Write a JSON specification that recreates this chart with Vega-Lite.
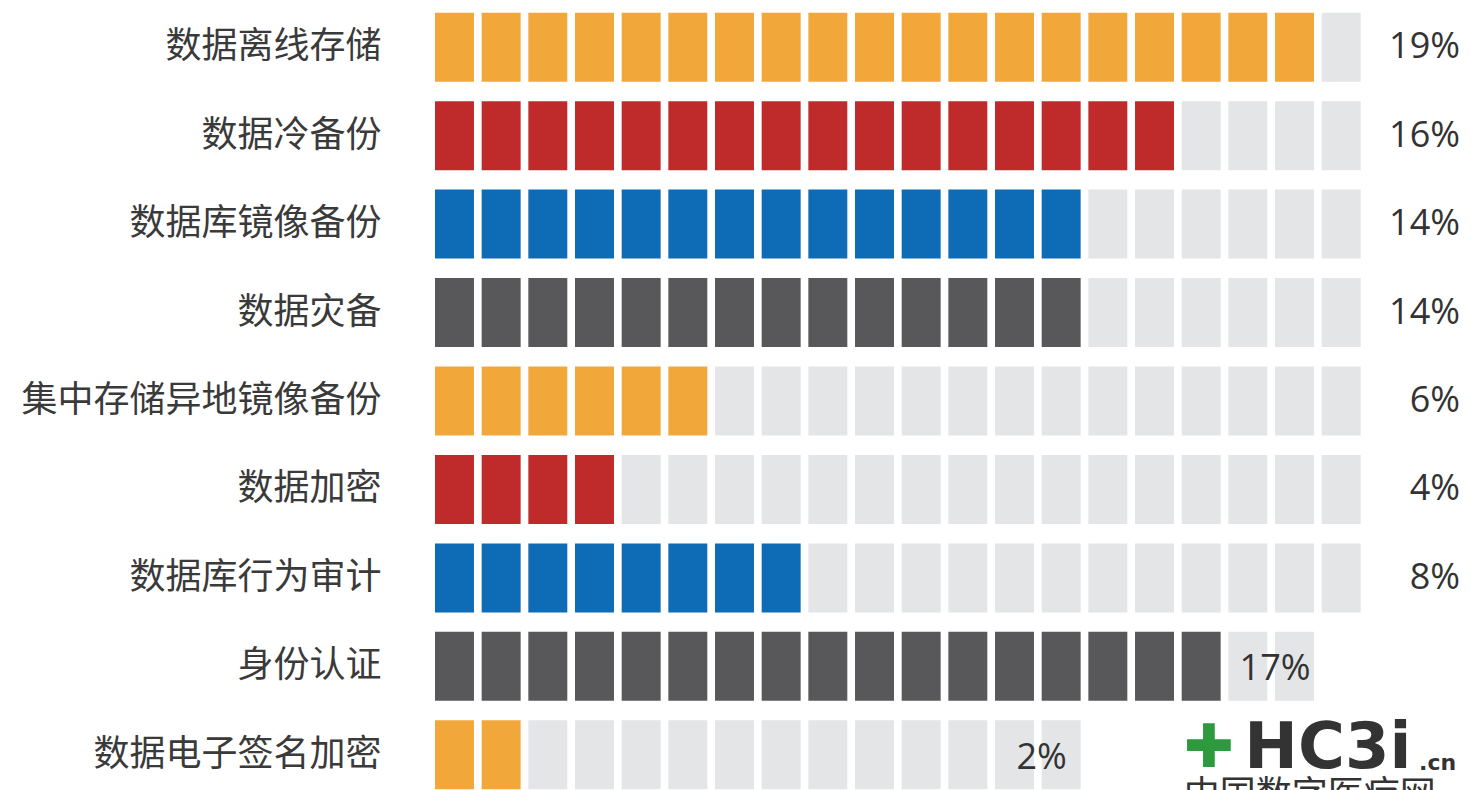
{
  "$schema": "https://vega.github.io/schema/vega-lite/v6.json",
  "width": 1019,
  "height": 796,
  "autosize": {"type": "none"},
  "padding": {"left": 435, "top": 3, "right": 17, "bottom": 0},
  "background": "white",
  "config": {"view": {"stroke": null}, "font": "Noto Sans CJK SC"},
  "datasets": {
    "cells": [
      {"k":"数据离线存储","i":0,"f":1},{"k":"数据离线存储","i":1,"f":1},{"k":"数据离线存储","i":2,"f":1},{"k":"数据离线存储","i":3,"f":1},{"k":"数据离线存储","i":4,"f":1},{"k":"数据离线存储","i":5,"f":1},{"k":"数据离线存储","i":6,"f":1},{"k":"数据离线存储","i":7,"f":1},{"k":"数据离线存储","i":8,"f":1},{"k":"数据离线存储","i":9,"f":1},{"k":"数据离线存储","i":10,"f":1},{"k":"数据离线存储","i":11,"f":1},{"k":"数据离线存储","i":12,"f":1},{"k":"数据离线存储","i":13,"f":1},{"k":"数据离线存储","i":14,"f":1},{"k":"数据离线存储","i":15,"f":1},{"k":"数据离线存储","i":16,"f":1},{"k":"数据离线存储","i":17,"f":1},{"k":"数据离线存储","i":18,"f":1},{"k":"数据离线存储","i":19,"f":0},
      {"k":"数据冷备份","i":0,"f":1},{"k":"数据冷备份","i":1,"f":1},{"k":"数据冷备份","i":2,"f":1},{"k":"数据冷备份","i":3,"f":1},{"k":"数据冷备份","i":4,"f":1},{"k":"数据冷备份","i":5,"f":1},{"k":"数据冷备份","i":6,"f":1},{"k":"数据冷备份","i":7,"f":1},{"k":"数据冷备份","i":8,"f":1},{"k":"数据冷备份","i":9,"f":1},{"k":"数据冷备份","i":10,"f":1},{"k":"数据冷备份","i":11,"f":1},{"k":"数据冷备份","i":12,"f":1},{"k":"数据冷备份","i":13,"f":1},{"k":"数据冷备份","i":14,"f":1},{"k":"数据冷备份","i":15,"f":1},{"k":"数据冷备份","i":16,"f":0},{"k":"数据冷备份","i":17,"f":0},{"k":"数据冷备份","i":18,"f":0},{"k":"数据冷备份","i":19,"f":0},
      {"k":"数据库镜像备份","i":0,"f":1},{"k":"数据库镜像备份","i":1,"f":1},{"k":"数据库镜像备份","i":2,"f":1},{"k":"数据库镜像备份","i":3,"f":1},{"k":"数据库镜像备份","i":4,"f":1},{"k":"数据库镜像备份","i":5,"f":1},{"k":"数据库镜像备份","i":6,"f":1},{"k":"数据库镜像备份","i":7,"f":1},{"k":"数据库镜像备份","i":8,"f":1},{"k":"数据库镜像备份","i":9,"f":1},{"k":"数据库镜像备份","i":10,"f":1},{"k":"数据库镜像备份","i":11,"f":1},{"k":"数据库镜像备份","i":12,"f":1},{"k":"数据库镜像备份","i":13,"f":1},{"k":"数据库镜像备份","i":14,"f":0},{"k":"数据库镜像备份","i":15,"f":0},{"k":"数据库镜像备份","i":16,"f":0},{"k":"数据库镜像备份","i":17,"f":0},{"k":"数据库镜像备份","i":18,"f":0},{"k":"数据库镜像备份","i":19,"f":0},
      {"k":"数据灾备","i":0,"f":1},{"k":"数据灾备","i":1,"f":1},{"k":"数据灾备","i":2,"f":1},{"k":"数据灾备","i":3,"f":1},{"k":"数据灾备","i":4,"f":1},{"k":"数据灾备","i":5,"f":1},{"k":"数据灾备","i":6,"f":1},{"k":"数据灾备","i":7,"f":1},{"k":"数据灾备","i":8,"f":1},{"k":"数据灾备","i":9,"f":1},{"k":"数据灾备","i":10,"f":1},{"k":"数据灾备","i":11,"f":1},{"k":"数据灾备","i":12,"f":1},{"k":"数据灾备","i":13,"f":1},{"k":"数据灾备","i":14,"f":0},{"k":"数据灾备","i":15,"f":0},{"k":"数据灾备","i":16,"f":0},{"k":"数据灾备","i":17,"f":0},{"k":"数据灾备","i":18,"f":0},{"k":"数据灾备","i":19,"f":0},
      {"k":"集中存储异地镜像备份","i":0,"f":1},{"k":"集中存储异地镜像备份","i":1,"f":1},{"k":"集中存储异地镜像备份","i":2,"f":1},{"k":"集中存储异地镜像备份","i":3,"f":1},{"k":"集中存储异地镜像备份","i":4,"f":1},{"k":"集中存储异地镜像备份","i":5,"f":1},{"k":"集中存储异地镜像备份","i":6,"f":0},{"k":"集中存储异地镜像备份","i":7,"f":0},{"k":"集中存储异地镜像备份","i":8,"f":0},{"k":"集中存储异地镜像备份","i":9,"f":0},{"k":"集中存储异地镜像备份","i":10,"f":0},{"k":"集中存储异地镜像备份","i":11,"f":0},{"k":"集中存储异地镜像备份","i":12,"f":0},{"k":"集中存储异地镜像备份","i":13,"f":0},{"k":"集中存储异地镜像备份","i":14,"f":0},{"k":"集中存储异地镜像备份","i":15,"f":0},{"k":"集中存储异地镜像备份","i":16,"f":0},{"k":"集中存储异地镜像备份","i":17,"f":0},{"k":"集中存储异地镜像备份","i":18,"f":0},{"k":"集中存储异地镜像备份","i":19,"f":0},
      {"k":"数据加密","i":0,"f":1},{"k":"数据加密","i":1,"f":1},{"k":"数据加密","i":2,"f":1},{"k":"数据加密","i":3,"f":1},{"k":"数据加密","i":4,"f":0},{"k":"数据加密","i":5,"f":0},{"k":"数据加密","i":6,"f":0},{"k":"数据加密","i":7,"f":0},{"k":"数据加密","i":8,"f":0},{"k":"数据加密","i":9,"f":0},{"k":"数据加密","i":10,"f":0},{"k":"数据加密","i":11,"f":0},{"k":"数据加密","i":12,"f":0},{"k":"数据加密","i":13,"f":0},{"k":"数据加密","i":14,"f":0},{"k":"数据加密","i":15,"f":0},{"k":"数据加密","i":16,"f":0},{"k":"数据加密","i":17,"f":0},{"k":"数据加密","i":18,"f":0},{"k":"数据加密","i":19,"f":0},
      {"k":"数据库行为审计","i":0,"f":1},{"k":"数据库行为审计","i":1,"f":1},{"k":"数据库行为审计","i":2,"f":1},{"k":"数据库行为审计","i":3,"f":1},{"k":"数据库行为审计","i":4,"f":1},{"k":"数据库行为审计","i":5,"f":1},{"k":"数据库行为审计","i":6,"f":1},{"k":"数据库行为审计","i":7,"f":1},{"k":"数据库行为审计","i":8,"f":0},{"k":"数据库行为审计","i":9,"f":0},{"k":"数据库行为审计","i":10,"f":0},{"k":"数据库行为审计","i":11,"f":0},{"k":"数据库行为审计","i":12,"f":0},{"k":"数据库行为审计","i":13,"f":0},{"k":"数据库行为审计","i":14,"f":0},{"k":"数据库行为审计","i":15,"f":0},{"k":"数据库行为审计","i":16,"f":0},{"k":"数据库行为审计","i":17,"f":0},{"k":"数据库行为审计","i":18,"f":0},{"k":"数据库行为审计","i":19,"f":0},
      {"k":"身份认证","i":0,"f":1},{"k":"身份认证","i":1,"f":1},{"k":"身份认证","i":2,"f":1},{"k":"身份认证","i":3,"f":1},{"k":"身份认证","i":4,"f":1},{"k":"身份认证","i":5,"f":1},{"k":"身份认证","i":6,"f":1},{"k":"身份认证","i":7,"f":1},{"k":"身份认证","i":8,"f":1},{"k":"身份认证","i":9,"f":1},{"k":"身份认证","i":10,"f":1},{"k":"身份认证","i":11,"f":1},{"k":"身份认证","i":12,"f":1},{"k":"身份认证","i":13,"f":1},{"k":"身份认证","i":14,"f":1},{"k":"身份认证","i":15,"f":1},{"k":"身份认证","i":16,"f":1},{"k":"身份认证","i":17,"f":0},{"k":"身份认证","i":18,"f":0},
      {"k":"数据电子签名加密","i":0,"f":1},{"k":"数据电子签名加密","i":1,"f":1},{"k":"数据电子签名加密","i":2,"f":0},{"k":"数据电子签名加密","i":3,"f":0},{"k":"数据电子签名加密","i":4,"f":0},{"k":"数据电子签名加密","i":5,"f":0},{"k":"数据电子签名加密","i":6,"f":0},{"k":"数据电子签名加密","i":7,"f":0},{"k":"数据电子签名加密","i":8,"f":0},{"k":"数据电子签名加密","i":9,"f":0},{"k":"数据电子签名加密","i":10,"f":0},{"k":"数据电子签名加密","i":11,"f":0},{"k":"数据电子签名加密","i":12,"f":0},{"k":"数据电子签名加密","i":13,"f":0}
    ],
    "labels": [
      {"k":"数据离线存储","t":"19%"},
      {"k":"数据冷备份","t":"16%"},
      {"k":"数据库镜像备份","t":"14%"},
      {"k":"数据灾备","t":"14%"},
      {"k":"集中存储异地镜像备份","t":"6%"},
      {"k":"数据加密","t":"4%"},
      {"k":"数据库行为审计","t":"8%"},
      {"k":"身份认证","t":"17%","at":18},
      {"k":"数据电子签名加密","t":"2%","at":13}
    ]
  },
  "layer": [
    {
      "data": {"name": "cells"},
      "mark": {"type": "rect"},
      "encoding": {
        "y": {
          "field": "k", "type": "nominal",
          "sort": ["数据离线存储","数据冷备份","数据库镜像备份","数据灾备","集中存储异地镜像备份","数据加密","数据库行为审计","身份认证","数据电子签名加密"],
          "scale": {"paddingInner": 0.22, "paddingOuter": 0.11},
          "axis": {"title": null, "domain": false, "ticks": false, "labelFontSize": 36, "labelColor": "#3a3a3a", "labelPadding": 54, "labelLimit": 0, "labelFont": "Noto Sans CJK SC"}
        },
        "x": {
          "field": "i", "type": "ordinal",
          "scale": {"domain": [0,1,2,3,4,5,6,7,8,9,10,11,12,13,14,15,16,17,18,19,20,21], "paddingInner": 0.165, "paddingOuter": 0},
          "axis": null
        },
        "color": {
          "condition": {"test": "datum.f == 0", "value": "#E4E5E7"},
          "field": "k", "type": "nominal",
          "scale": {
            "domain": ["数据离线存储","数据冷备份","数据库镜像备份","数据灾备","集中存储异地镜像备份","数据加密","数据库行为审计","身份认证","数据电子签名加密"],
            "range": ["#F2A73B","#BF2A2B","#0E6BB5","#58585A","#F2A73B","#BF2A2B","#0E6BB5","#58585A","#F2A73B"]
          },
          "legend": null
        }
      }
    },
    {
      "data": {"name": "labels"},
      "transform": [{"filter": "!isValid(datum.at)"}],
      "mark": {"type": "text", "align": "right", "baseline": "middle", "font": "Open Sans", "fontSize": 36, "color": "#333333", "dx": 6},
      "encoding": {
        "y": {"field": "k", "type": "nominal", "sort": ["数据离线存储","数据冷备份","数据库镜像备份","数据灾备","集中存储异地镜像备份","数据加密","数据库行为审计","身份认证","数据电子签名加密"]},
        "x": {"datum": 21, "type": "ordinal", "bandPosition": 1},
        "text": {"field": "t"}
      }
    },
    {
      "data": {"name": "labels"},
      "transform": [{"filter": "isValid(datum.at)"}],
      "mark": {"type": "text", "align": "center", "baseline": "middle", "font": "Open Sans", "fontSize": 36, "color": "#333333", "dy": 3},
      "encoding": {
        "y": {"field": "k", "type": "nominal", "sort": ["数据离线存储","数据冷备份","数据库镜像备份","数据灾备","集中存储异地镜像备份","数据加密","数据库行为审计","身份认证","数据电子签名加密"]},
        "x": {"field": "at", "type": "ordinal", "bandPosition": 0},
        "text": {"field": "t"}
      }
    },
    {
      "data": {"values": [{"t": "HC3i"}]},
      "mark": {"type": "text", "align": "left", "baseline": "middle", "font": "DejaVu Sans", "fontWeight": "bold", "fontSize": 64, "color": "#333333", "dx": 16, "dy": -6},
      "encoding": {
        "y": {"datum": "数据电子签名加密", "type": "nominal"},
        "x": {"datum": 17, "type": "ordinal", "bandPosition": 0},
        "text": {"field": "t"}
      }
    },
    {
      "data": {"values": [{"t": ".cn"}]},
      "mark": {"type": "text", "align": "left", "baseline": "alphabetic", "font": "DejaVu Sans", "fontWeight": "bold", "fontSize": 22, "color": "#333333", "dx": 4, "dy": 15},
      "encoding": {
        "y": {"datum": "数据电子签名加密", "type": "nominal"},
        "x": {"datum": 21, "type": "ordinal", "bandPosition": 0},
        "text": {"field": "t"}
      }
    },
    {
      "data": {"values": [{"t": "✚"}]},
      "mark": {"type": "text", "align": "left", "baseline": "middle", "font": "DejaVu Sans", "fontSize": 60, "color": "#2E9A3E", "dx": 2, "dy": -6},
      "encoding": {
        "y": {"datum": "数据电子签名加密", "type": "nominal"},
        "x": {"datum": 16, "type": "ordinal", "bandPosition": 0},
        "text": {"field": "t"}
      }
    },
    {
      "data": {"values": [{"t": "中国数字医疗网"}]},
      "mark": {"type": "text", "align": "left", "baseline": "top", "font": "Noto Sans CJK SC", "fontSize": 36, "color": "#333333", "dx": 2, "dy": 24},
      "encoding": {
        "y": {"datum": "数据电子签名加密", "type": "nominal"},
        "x": {"datum": 16, "type": "ordinal", "bandPosition": 0},
        "text": {"field": "t"}
      }
    }
  ]
}
